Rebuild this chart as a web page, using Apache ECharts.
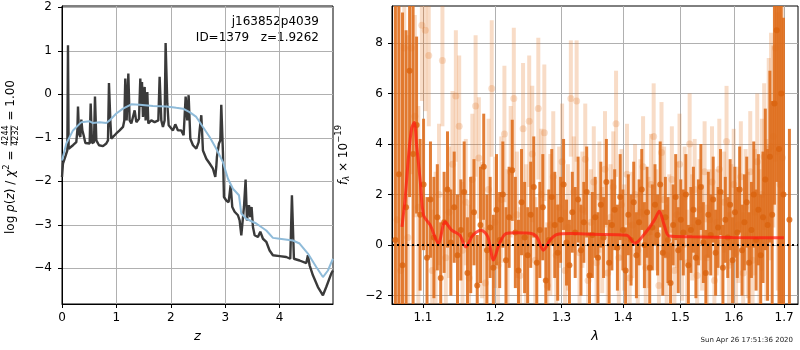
<!DOCTYPE html>
<html><head><meta charset="utf-8">
<script src="https://cdn.jsdelivr.net/npm/echarts@6/dist/echarts.min.js"></script>
<style>html,body{margin:0;padding:0;background:#fff}#c{width:800px;height:350px}</style>
</head><body><div id="c"></div>
<script>
// ---------- left panel: log p(z) ----------
const pzZ = [0.000,0.018,0.049,0.080,0.098,0.110,0.122,0.141,0.202,0.263,0.282,0.294,0.312,0.337,0.355,0.374,0.398,0.429,0.508,0.527,0.551,0.588,0.606,0.631,0.680,0.753,0.814,0.845,0.863,0.888,0.906,0.937,0.998,1.059,1.121,1.145,1.163,1.188,1.219,1.243,1.274,1.304,1.335,1.366,1.415,1.439,1.457,1.470,1.488,1.519,1.537,1.568,1.586,1.641,1.702,1.733,1.770,1.794,1.825,1.855,1.886,1.904,1.935,1.960,1.990,2.039,2.082,2.131,2.192,2.235,2.272,2.302,2.327,2.358,2.407,2.468,2.511,2.529,2.560,2.590,2.652,2.713,2.743,2.774,2.817,2.835,2.847,2.884,2.909,2.927,2.958,2.976,3.019,3.062,3.099,3.129,3.172,3.233,3.264,3.295,3.325,3.344,3.374,3.399,3.435,3.460,3.484,3.509,3.540,3.601,3.644,3.693,3.754,3.815,3.876,3.999,4.121,4.195,4.225,4.262,4.366,4.489,4.519,4.550,4.611,4.703,4.795,4.856,4.948,4.979];
const pzLog = [-1.90,-1.59,-1.48,-1.36,-1.29,1.13,-1.25,-1.21,-1.17,-1.10,-0.83,-0.28,-0.90,-0.98,-0.58,-0.83,-0.94,-1.12,-1.13,-0.21,-1.12,-1.10,-0.05,-1.06,-1.17,-1.19,-1.13,-1.06,0.26,-0.60,-1.02,-0.98,-0.90,-0.83,-0.75,-0.60,0.36,-0.60,0.48,-0.60,-0.67,-0.64,-0.37,-0.64,-0.56,0.36,-0.29,0.28,-0.52,0.17,-0.60,0.05,-0.67,-0.60,-0.64,-0.67,-0.60,0.40,-0.60,-0.75,-0.60,1.18,-0.21,-0.71,-0.75,-0.83,-0.69,-0.83,-0.83,-0.94,-0.05,-0.60,-0.02,-1.02,-1.17,-1.25,-1.10,-0.83,-0.48,-1.29,-1.48,-1.59,-1.56,-1.71,-1.90,-1.67,-1.44,-1.13,-1.06,-0.24,-1.36,-2.36,-2.44,-2.48,-2.09,-2.59,-2.70,-2.78,-2.90,-3.24,-3.20,-2.59,-1.96,-2.90,-2.55,-2.82,-2.59,-3.05,-3.24,-3.28,-3.16,-3.32,-3.39,-3.59,-3.70,-3.72,-3.74,-3.78,-2.32,-3.78,-3.82,-3.88,-3.70,-3.93,-4.16,-4.43,-4.62,-4.43,-4.12,-4.05];
const smZ = [0.000,0.080,0.202,0.355,0.508,0.570,0.692,0.814,0.876,0.998,1.121,1.274,1.427,1.672,1.917,2.100,2.223,2.345,2.468,2.590,2.713,2.835,2.958,3.050,3.141,3.252,3.295,3.386,3.570,3.754,3.876,3.999,4.244,4.366,4.519,4.672,4.795,4.887,4.979];
const smLog = [-1.52,-1.13,-0.83,-0.64,-0.62,-0.66,-0.64,-0.66,-0.60,-0.44,-0.33,-0.23,-0.24,-0.27,-0.28,-0.31,-0.33,-0.41,-0.52,-0.75,-0.98,-1.25,-1.56,-1.94,-2.17,-2.32,-2.74,-2.86,-2.97,-3.13,-3.30,-3.32,-3.36,-3.43,-3.66,-3.97,-4.20,-4.05,-3.78];
const zTicks = [0,1,2,3,4];
const pzTicks = [-4,-3,-2,-1,0,1,2];

// ---------- right panel: spectrum (wavelength in Angstrom) ----------
const darkLam = [10640,10686,10732,10778,10824,10870,10916,10962,11008,11054,
11100,11146,11192,11238,11284,11330,11376,11422,11468,11514,
11560,11606,11652,11698,11744,11790,11836,11882,11928,11974,
12020,12066,12112,12158,12204,12250,12296,12342,12388,12434,
12480,12526,12572,12618,12664,12710,12756,12802,12848,12894,
12940,12986,13032,13078,13124,13170,13216,13262,13308,13354,
13400,13446,13492,13538,13584,13630,13676,13722,13768,13814,
13860,13906,13952,13998,14044,14090,14136,14182,14228,14274,
14320,14366,14412,14458,14504,14550,14596,14642,14688,14734,
14780,14826,14872,14918,14964,15010,15056,15102,15148,15194,
15240,15286,15332,15378,15424,15470,15516,15562,15608,15654,
15700,15746,15792,15838,15884,15930,15976,16022,16068,16114,
16160,16206,16252,16298,16344,16390,16436,16482,16528,16574,
16620,16666,16712,16758,16804,16850,16896,16942,16988,17110];
const darkFlux = [0.2,2.8,-0.8,1.5,6.9,3.6,4.75,1.2,2.4,-0.5,
1.8,0.3,1.1,-1.3,0.9,2.2,0.1,1.5,-0.4,0.6,
2.1,-1.1,0.4,1.3,-1.6,0.8,3.1,-0.2,0.7,-0.9,
1.4,0.2,2.0,-0.6,1.1,2.96,0.5,-1.0,1.7,0.3,
-0.4,1.2,2.3,-0.7,0.6,1.5,-1.4,0.2,1.9,0.8,
-0.3,1.0,2.4,0.1,-0.8,1.3,0.5,1.8,-0.2,0.9,
2.1,-1.2,0.4,1.1,-0.5,1.6,0.3,2.5,-0.7,0.8,
1.4,-0.1,1.9,0.6,-1.0,1.2,0.2,1.7,-0.4,0.9,
2.2,0.0,1.3,-0.9,0.7,1.6,0.4,2.4,-0.3,1.1,
0.2,-1.5,0.8,1.9,-0.2,1.0,0.5,2.0,-0.8,0.6,
1.4,-0.5,0.9,2.3,0.1,-1.1,1.2,0.4,1.8,-0.3,
0.7,2.1,-0.9,1.0,0.3,1.6,-0.6,1.3,0.5,2.2,
-0.2,0.9,1.7,-0.7,0.6,2.0,0.2,1.4,-0.4,1.1,
2.6,0.8,3.5,1.2,5.6,8.5,3.8,6.0,2.0,1.0];
const darkErr = [12,9,10,7,5,6,3.5,3.0,2.6,2.4,
2.3,2.4,2.1,2.2,2.0,2.3,2.1,2.2,2.4,2.0,
2.0,2.2,2.3,2.1,2.0,2.3,2.1,2.2,2.0,2.1,
2.2,1.9,2.1,2.1,2.0,2.0,2.2,2.0,2.1,2.2,
1.9,2.1,2.0,2.2,1.9,2.1,2.1,2.0,1.9,2.1,
1.9,1.7,1.8,1.7,1.8,1.6,1.8,1.7,1.8,1.6,
1.8,1.7,1.7,1.6,1.8,1.7,1.6,1.7,1.7,1.8,
1.6,1.7,1.7,1.6,1.7,1.6,1.8,1.6,1.7,1.7,
1.6,1.7,1.8,1.6,1.7,1.6,1.6,1.7,1.7,1.6,
1.7,1.6,1.6,1.7,1.7,1.6,1.7,1.6,1.6,1.7,
1.7,1.6,1.7,1.7,1.6,1.7,1.7,1.6,1.7,1.7,
1.6,1.7,1.7,1.7,1.6,1.8,1.7,1.8,1.8,1.7,
1.8,1.9,1.8,2.0,1.9,2.1,2.0,2.2,2.4,2.6,
2.8,3.0,3.4,4.5,4.0,6,8,9,7,3.6];
const lightLam = [10663,10709,10755,10801,10847,10893,10939,10985,11031,11077,
11123,11169,11215,11261,11307,11353,11399,11445,11491,11537,
11583,11629,11675,11721,11767,11813,11859,11905,11951,11997,
12043,12089,12135,12181,12227,12273,12319,12365,12411,12457,
12503,12549,12595,12641,12687,12733,12779,12825,12871,12917,
12963,13009,13055,13101,13147,13193,13239,13285,13331,13377,
13423,13469,13515,13561,13607,13653,13699,13745,13791,13837,
13883,13929,13975,14021,14067,14113,14159,14205,14251,14297,
14343,14389,14435,14481,14527,14573,14619,14665,14711,14757,
14803,14849,14895,14941,14987,15033,15079,15125,15171,15217,
15263,15309,15355,15401,15447,15493,15539,15585,15631,15677,
15723,15769,15815,15861,15907,15953,15999,16045,16091,16137,
16183,16229,16275,16321,16367,16413,16459,16505,16551,16597,
16643,16689,16735,16781,16827,16873,16919,16965];
const lightFlux = [1.0,-1.0,7.8,0.3,7.8,5.1,1.5,8.7,8.5,7.5,
-1.0,0.2,2.0,7.3,-0.5,1.3,3.2,5.9,4.7,-0.2,
1.7,-1.3,2.6,5.5,3.45,0.6,-1.5,2.2,6.2,0.9,
-0.8,1.8,4.4,0.1,2.9,5.8,1.2,-1.2,4.6,0.4,
4.9,3.6,-0.6,5.4,2.0,4.45,-1.6,0.8,2.7,-0.4,
1.5,3.3,-1.0,0.7,5.8,2.1,5.7,-0.3,1.4,3.4,
-1.4,0.9,2.5,-0.7,1.9,0.2,3.0,-1.1,1.1,2.3,
4.8,-0.5,1.6,0.3,2.8,-1.3,0.8,2.0,-0.2,1.3,
3.1,-0.9,0.5,2.4,4.3,1.0,-1.6,3.66,1.8,-0.4,
0.6,2.6,-1.0,1.2,3.2,0.0,1.9,-0.7,4.0,0.7,
2.2,-1.2,1.4,0.3,2.9,-0.5,1.0,2.5,-1.4,0.9,
3.0,0.1,1.7,4.1,-0.8,1.2,2.4,-0.3,0.8,2.7,
-1.1,1.5,0.4,2.9,-0.6,1.3,3.3,0.2,2.0,3.5,
1.0,3.8,3.9,4.3,7.8,3.7,2.4,3.46];
const lightErr = [10,9,6,8,5,4,4,3,3.2,2.8,
2.4,2.7,2.8,2.6,2.5,2.6,2.9,2.6,2.8,2.7,
2.5,2.9,2.6,2.8,2.4,2.7,2.5,2.8,2.7,2.6,
2.8,2.5,2.7,2.9,2.6,2.8,2.5,2.7,2.6,2.8,
2.6,2.7,2.5,2.8,2.6,2.7,2.5,2.8,2.6,2.4,
2.4,2.3,2.4,2.5,2.3,2.2,2.4,2.1,2.3,2.2,
2.3,2.1,2.2,2.0,2.2,2.1,2.3,2.0,2.1,2.2,
2.1,2.0,2.2,2.1,2.0,2.2,2.1,2.0,2.2,2.1,
2.0,2.1,2.2,2.0,2.1,2.0,2.2,2.0,2.1,2.0,
2.2,2.1,2.0,2.1,2.0,2.2,2.0,2.1,2.0,2.1,
2.0,2.2,2.0,2.1,2.0,2.1,2.0,2.2,2.0,2.1,
2.0,2.1,2.0,2.2,2.1,2.0,2.2,2.1,2.3,2.2,
2.4,2.3,2.5,2.4,2.6,2.5,2.7,2.8,3.0,2.9,
3.2,3.6,4.5,3.6,4.5,5.5,7.5,6.5];
const modelLam = [1.0725,1.0766,1.0810,1.0850,1.0885,1.0915,1.0965,1.1008,1.1097,1.1207,1.1297,1.1387,1.1500,1.1582,1.1683,1.1800,1.1894,1.1976,1.2063,1.2161,1.2310,1.2515,1.2616,1.2718,1.2822,1.2927,1.3140,1.3500,1.4062,1.4200,1.4397,1.4539,1.4626,1.4713,1.4800,1.5216,1.5975,1.6997];
const modelFlux = [0.72,1.84,3.5,4.6,4.85,4.0,2.5,1.18,0.79,0.07,0.92,0.59,0.39,-0.07,0.39,0.59,0.33,-0.59,0.07,0.46,0.49,0.47,0.33,-0.2,0.2,0.42,0.46,0.43,0.39,0.07,0.53,0.99,1.34,0.79,0.36,0.33,0.30,0.29];
const lamTicks = [1.1,1.2,1.3,1.4,1.5,1.6,1.7];
const fTicks = [-2,0,2,4,6,8];

const FF = '"DejaVu Sans", sans-serif';
const LAM_MIN = 1.0597, LAM_MAX = 1.7288, F_MIN = -2.33, F_MAX = 9.46;
const lnL = a => Math.log(a);
const minus = v => String(v).replace('-', '\u2212');

function barRender(color, width) {
  return function (params, api) {
    const x = api.value(0);
    const lo = Math.max(api.value(1), F_MIN), hi = Math.min(api.value(2), F_MAX);
    if (hi <= lo) return;
    const p1 = api.coord([x, lo]), p2 = api.coord([x, hi]);
    return {type: 'line', shape: {x1: p1[0], y1: p1[1], x2: p2[0], y2: p2[1]},
            style: {stroke: color, lineWidth: width}};
  };
}
const darkBars = darkLam.map((l, i) => [lnL(l / 1e4), darkFlux[i] - darkErr[i], darkFlux[i] + darkErr[i]]);
const lightBars = lightLam.map((l, i) => [lnL(l / 1e4), lightFlux[i] - lightErr[i], lightFlux[i] + lightErr[i]]);
const darkPts = darkLam.map((l, i) => [lnL(l / 1e4), darkFlux[i]]);
const lightPts = lightLam.map((l, i) => [lnL(l / 1e4), lightFlux[i]]);
const modelPts = modelLam.map((l, i) => [lnL(l), modelFlux[i]]);

const mctx = document.createElement('canvas').getContext('2d');
function tw(t, size, italic) { mctx.font = (italic ? 'italic ' : '') + size + 'px "DejaVu Sans"'; return mctx.measureText(t).width; }
function txt(t, x, y, size, italic, align) {
  return {type: 'text', x: x, y: y, style: {text: t, fontSize: size, fontFamily: FF, fontStyle: italic ? 'italic' : 'normal',
    fill: '#000', align: align || 'left', textAlign: align || 'left', verticalAlign: 'middle', textVerticalAlign: 'middle'}};
}
function rotLabel(cx, cy, parts) {
  let total = 0;
  parts.forEach(p => { p.w = p.frac ? Math.max(tw(p.frac[0], p.size), tw(p.frac[1], p.size)) + 2 : tw(p.t, p.size, p.italic); total += p.w; });
  let x = -total / 2; const ch = [];
  parts.forEach(p => {
    if (p.frac) {
      ch.push(txt(p.frac[0], x + p.w / 2, -p.size * 0.62, p.size, false, 'center'));
      ch.push(txt(p.frac[1], x + p.w / 2, p.size * 0.62, p.size, false, 'center'));
      ch.push({type: 'line', shape: {x1: x + 1, y1: 0, x2: x + p.w - 1, y2: 0}, style: {stroke: '#000', lineWidth: 0.8}});
    } else {
      ch.push(txt(p.t, x, p.dy || 0, p.size, p.italic));
    }
    x += p.w;
  });
  return {type: 'group', x: cx, y: cy, rotation: Math.PI / 2, children: ch};
}

const axisCommon = {
  axisLine: {show: true, onZero: false, lineStyle: {color: '#000', width: 1}},
  axisTick: {show: true, length: 4, lineStyle: {color: '#000', width: 1}},
  splitLine: {show: true, lineStyle: {color: '#b0b0b0', width: 1}},
};
const lab = {color: '#000', fontFamily: FF, fontSize: 12};

const chart = echarts.init(document.getElementById('c'), null, {renderer: 'canvas'});
chart.setOption({
  animation: false,
  backgroundColor: '#fff',
  grid: [
    {left: 62, top: 6, width: 271, height: 298, show: true, borderColor: '#000', borderWidth: 1, backgroundColor: 'transparent'},
    {left: 392, top: 6, width: 406, height: 298, show: true, borderColor: '#000', borderWidth: 1, backgroundColor: 'transparent'}
  ],
  xAxis: [
    Object.assign({}, axisCommon, {type: 'value', gridIndex: 0, min: 0, max: 4.98,
      axisTick: Object.assign({}, axisCommon.axisTick, {customValues: zTicks}),
      axisLabel: Object.assign({}, lab, {customValues: zTicks, margin: 8, formatter: minus}),
      name: 'z', nameLocation: 'middle', nameGap: 26,
      nameTextStyle: {fontFamily: FF, fontSize: 13, fontStyle: 'italic', color: '#000'}}),
    Object.assign({}, axisCommon, {type: 'value', gridIndex: 1, min: lnL(LAM_MIN), max: lnL(LAM_MAX),
      axisTick: Object.assign({}, axisCommon.axisTick, {customValues: lamTicks.map(lnL)}),
      axisLabel: Object.assign({}, lab, {customValues: lamTicks.map(lnL), margin: 8, formatter: v => Math.exp(v).toFixed(1)}),
      name: '\u03bb', nameLocation: 'middle', nameGap: 26,
      nameTextStyle: {fontFamily: FF, fontSize: 13, fontStyle: 'italic', color: '#000'}})
  ],
  yAxis: [
    Object.assign({}, axisCommon, {type: 'value', gridIndex: 0, min: -4.82, max: 2.03,
      axisTick: Object.assign({}, axisCommon.axisTick, {customValues: pzTicks}),
      axisLabel: Object.assign({}, lab, {customValues: pzTicks, margin: 10, formatter: minus})}),
    Object.assign({}, axisCommon, {type: 'value', gridIndex: 1, min: F_MIN, max: F_MAX,
      axisTick: Object.assign({}, axisCommon.axisTick, {customValues: fTicks}),
      axisLabel: Object.assign({}, lab, {customValues: fTicks, margin: 9, formatter: minus})})
  ],
  series: [
    {type: 'line', xAxisIndex: 0, yAxisIndex: 0, data: smZ.map((z, i) => [z, smLog[i]]), symbol: 'none',
     lineStyle: {color: '#8fbbd9', width: 2}, z: 3},
    {type: 'line', xAxisIndex: 0, yAxisIndex: 0, data: pzZ.map((z, i) => [z, pzLog[i]]), symbol: 'none',
     lineStyle: {color: '#3a3a3a', width: 2.4}, z: 2},
    {type: 'custom', xAxisIndex: 1, yAxisIndex: 1, data: lightBars, encode: {x: 0, y: [1, 2]}, clip: true,
     renderItem: barRender('rgba(228,118,40,0.26)', 4), z: 2},
    {type: 'scatter', xAxisIndex: 1, yAxisIndex: 1, data: lightPts, symbolSize: 7, clip: true,
     itemStyle: {color: 'rgba(228,118,40,0.3)'}, z: 2},
    {type: 'custom', xAxisIndex: 1, yAxisIndex: 1, data: darkBars, encode: {x: 0, y: [1, 2]}, clip: true,
     renderItem: barRender('rgba(222,108,26,0.88)', 3), z: 3},
    {type: 'scatter', xAxisIndex: 1, yAxisIndex: 1, data: darkPts, symbolSize: 6, clip: true,
     itemStyle: {color: '#d9630e'}, z: 3},
    {type: 'line', xAxisIndex: 1, yAxisIndex: 1, data: modelPts, symbol: 'none', smooth: 0.3,
     lineStyle: {color: 'rgba(255,25,15,0.72)', width: 3}, z: 4,
     markLine: {silent: true, symbol: ['none', 'none'], label: {show: false},
       lineStyle: {color: '#000', type: [2, 3], width: 2}, data: [{yAxis: 0}]}}
  ],
  graphic: [
    txt('j163852p4039', 319, 22, 12, false, 'right'),
    txt('ID=1379   z=1.9262', 319, 38, 12, false, 'right'),
    {type: 'text', x: 793, y: 340, style: {text: 'Sun Apr 26 17:51:36 2020', fontSize: 7, fontFamily: FF, fill: '#222',
      align: 'right', textAlign: 'right', verticalAlign: 'middle', textVerticalAlign: 'middle'}},
    rotLabel(11, 157, [
      {t: 'log ', size: 12}, {t: 'p', size: 12, italic: true}, {t: '(', size: 12}, {t: 'z', size: 12, italic: true},
      {t: ') / ', size: 12}, {t: '\u03c7', size: 12, italic: true}, {t: '2', size: 8.5, dy: -4},
      {t: ' = ', size: 12}, {frac: ['4244', '4232'], size: 8}, {t: ' = 1.00', size: 12}
    ]),
    rotLabel(344, 155, [
      {t: 'f', size: 12, italic: true}, {t: '\u03bb', size: 8.5, italic: true, dy: 3},
      {t: ' \u00d7 10', size: 12}, {t: '\u221219', size: 8.5, dy: -5}
    ])
  ]
});
</script>
</body></html>
